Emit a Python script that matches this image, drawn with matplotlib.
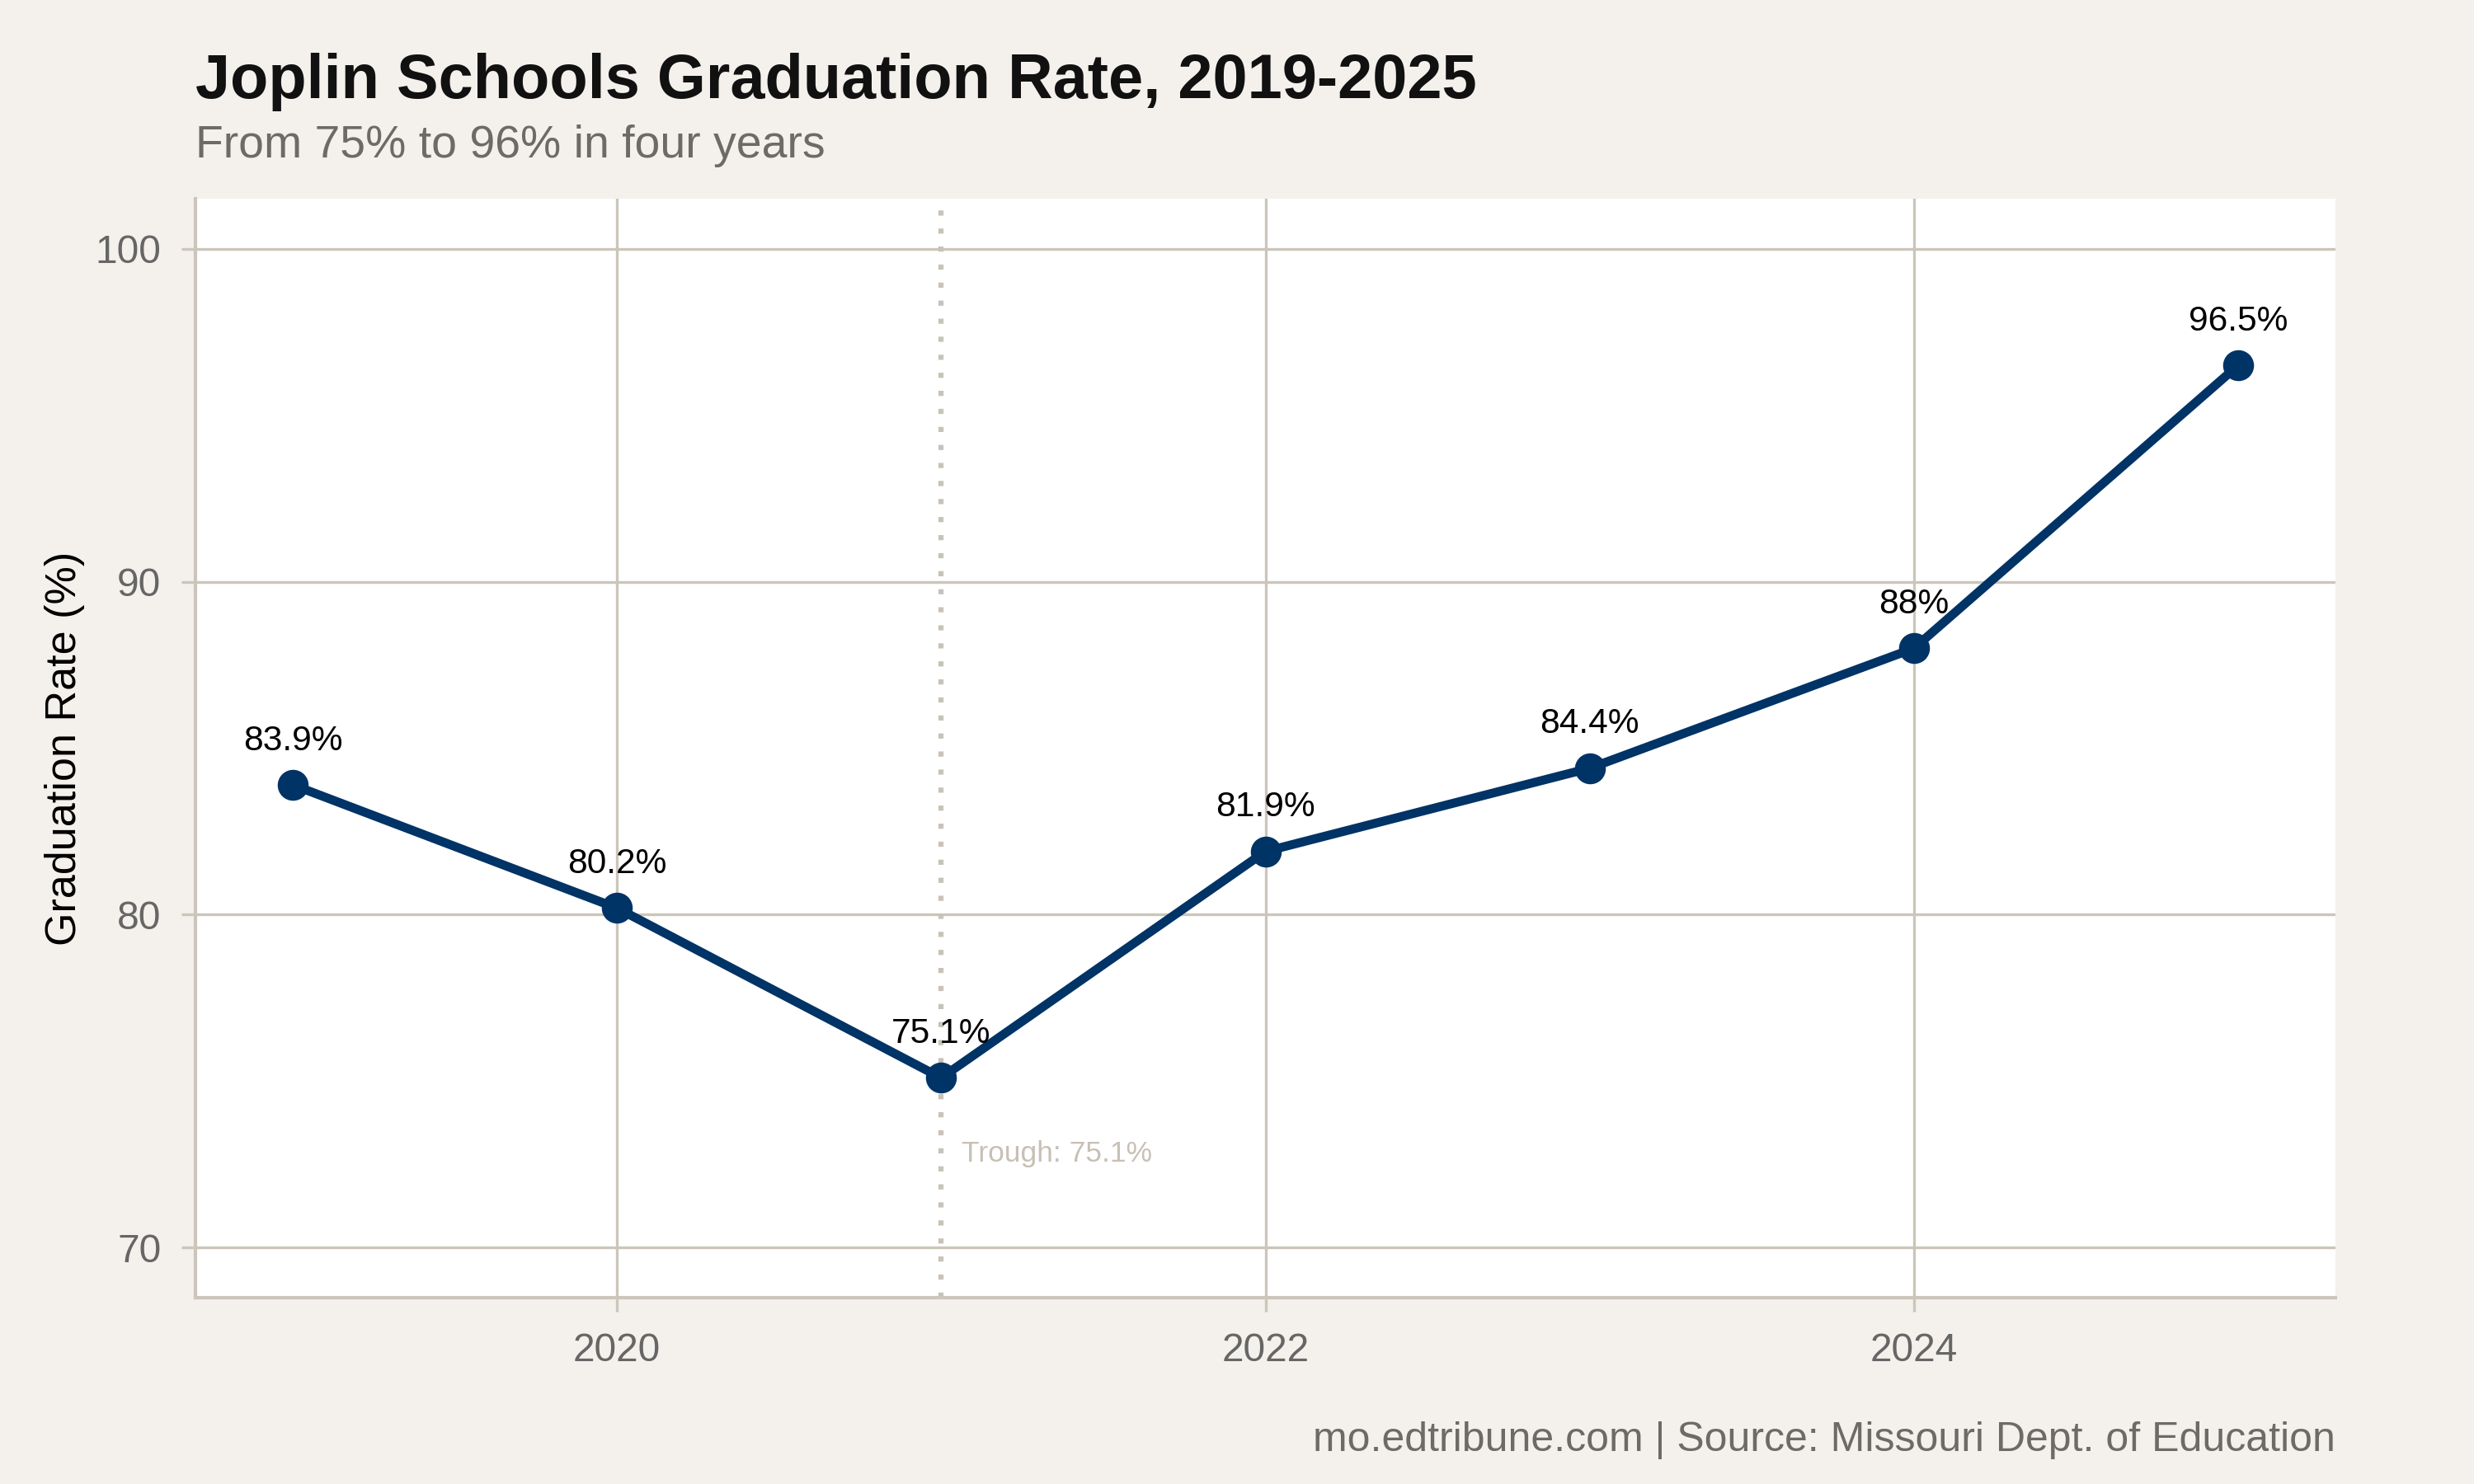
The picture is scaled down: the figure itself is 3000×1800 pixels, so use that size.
import matplotlib
matplotlib.use("Agg")
import matplotlib.pyplot as plt

# データ
years = [2019, 2020, 2021, 2022, 2023, 2024, 2025]
rates = [83.9, 80.2, 75.1, 81.9, 84.4, 88.0, 96.5]
rate_labels = ["83.9%", "80.2%", "75.1%", "81.9%", "84.4%", "88%", "96.5%"]
x_ticks = [2020, 2022, 2024]
y_ticks = [70, 80, 90, 100]
trough_year = 2021
trough_label = "Trough: 75.1%"

plt.rcParams['font.family'] = ['Liberation Sans', 'DejaVu Sans']

bg = '#F4F1EC'
grid_c = '#CCC5BB'
navy = '#003366'

fig = plt.figure(figsize=(10, 6), dpi=300, facecolor=bg)
ax = fig.add_axes([0.079, 0.1256, 0.865, 0.7404])
ax.set_facecolor('white')

ax.set_xlim(2018.7, 2025.3)
ax.set_ylim(68.5, 101.5)
ax.set_xticks(x_ticks)
ax.set_yticks(y_ticks)
ax.grid(True, color=grid_c, linewidth=0.8)
ax.set_axisbelow(True)

for s in ['top', 'right']:
    ax.spines[s].set_visible(False)
for s in ['left', 'bottom']:
    ax.spines[s].set_color(grid_c)
    ax.spines[s].set_linewidth(1.0)
ax.tick_params(colors=grid_c, length=4, width=0.8, labelcolor='#666666', labelsize=11.5, pad=6)

# 最低点の縦線
ax.axvline(trough_year, color='#C8C2BA', linestyle=(0, (1, 2.5)), linewidth=1.5, zorder=1)
ax.annotate(trough_label, xy=(trough_year, min(rates)), xytext=(6, -22),
            textcoords='offset points', ha='left', va='center', fontsize=8.5, color='#C8C0B5')

ax.plot(years, rates, color=navy, linewidth=2.6, marker='o', markersize=8, zorder=3)
for x, y, lab in zip(years, rates, rate_labels):
    ax.annotate(lab, xy=(x, y), xytext=(0, 8), textcoords='offset points',
                ha='center', va='bottom', fontsize=10.2, color='black', zorder=4)

ax.set_ylabel('Graduation Rate (%)', fontsize=12.5, color='black', labelpad=3)

fig.text(0.079, 0.934, 'Joplin Schools Graduation Rate, 2019-2025', fontsize=18.2,
         fontweight='bold', color='#111111', ha='left', va='baseline')
fig.text(0.079, 0.894, 'From 75% to 96% in four years', fontsize=13.3,
         color='#6E6A66', ha='left', va='baseline')
fig.text(0.944, 0.022, 'mo.edtribune.com | Source: Missouri Dept. of Education', fontsize=12,
         color='#6E6A66', ha='right', va='baseline')

fig.savefig('out.png', dpi=300, facecolor=bg)
